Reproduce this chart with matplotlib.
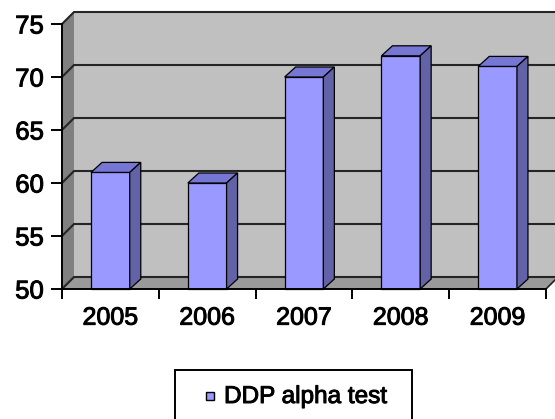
import matplotlib
matplotlib.use("Agg")
import matplotlib.pyplot as plt
import matplotlib.patheffects as pe
from matplotlib.patches import Polygon, Rectangle

plt.rcParams['font.family'] = ['Liberation Sans', 'DejaVu Sans']

# data
years = ['2005', '2006', '2007', '2008', '2009']
values = [61, 60, 70, 72, 71]
series_name = 'DDP alpha test'
y_ticks = [50, 55, 60, 65, 70, 75]

W, H = 555, 419
fig = plt.figure(figsize=(W / 100, H / 100), dpi=100)
# front plane of the plot box, in pixels
x0, x1, yb, yt = 62, 546, 289, 24
ax = fig.add_axes([x0 / W, 1 - yb / H, (x1 - x0) / W, (yb - yt) / H])
ax.set_xlim(0, len(years))
ax.set_ylim(50, 75)
ax.set_facecolor('none')

px_x = (x1 - x0) / len(years)
px_y = (yb - yt) / 25.0
# depth of walls / bars (pixels -> data)
wdx, wdy = 12 / px_x, 12 / px_y
bdx, bdy = 11 / px_x, 10 / px_y

n = len(years)
lo, hi = 50, 75

def poly(pts, fc, z, ec='none', lw=0):
    ax.add_patch(Polygon(pts, closed=True, facecolor=fc, edgecolor=ec,
                         linewidth=lw, zorder=z, clip_on=False))

# walls
poly([(wdx, lo + wdy), (n + wdx, lo + wdy), (n + wdx, hi + wdy), (wdx, hi + wdy)], '#c0c0c0', 1)
poly([(0, lo), (wdx, lo + wdy), (wdx, hi + wdy), (0, hi)], '#808080', 1)
poly([(0, lo), (n, lo), (n + wdx, lo + wdy), (wdx, lo + wdy)], '#9a9a9a', 1)
ax.plot([n, n + wdx], [lo, lo + wdy], color='#222222', lw=1.2, zorder=2, clip_on=False)

# gridlines on side and back walls
for v in y_ticks:
    ax.plot([0, wdx, n + wdx], [v, v + wdy, v + wdy], color='#252525',
            lw=1.5, zorder=2, clip_on=False, solid_joinstyle='miter')

# bars
for i, v in enumerate(values):
    l, r = i + 0.3, i + 0.7
    poly([(l, lo), (r, lo), (r, v), (l, v)], '#9999ff', 3, 'black', 0.9)
    poly([(l, v), (r, v), (r + bdx, v + bdy), (l + bdx, v + bdy)], '#7676d4', 3, 'black', 0.9)
    poly([(r, lo), (r + bdx, lo + bdy), (r + bdx, v + bdy), (r, v)], '#6262a6', 3, 'black', 0.9)

# axes
for s in ['top', 'right']:
    ax.spines[s].set_visible(False)
for s in ['left', 'bottom']:
    ax.spines[s].set_linewidth(1.4)
    ax.spines[s].set_color('black')
    ax.spines[s].set_zorder(4)
ax.set_yticks(y_ticks)
ax.tick_params(axis='y', direction='out', length=8, width=1.4, pad=5, labelsize=18.5)
ax.set_xticks(range(n + 1))
ax.set_xticklabels([])
ax.tick_params(axis='x', which='major', direction='out', length=7, width=1.4)
ax.set_xticks([i + 0.5 for i in range(n)], minor=True)
ax.set_xticklabels(years, minor=True)
ax.tick_params(axis='x', which='minor', length=0, pad=12, labelsize=18)

# thicker strokes, like the blurry original
heavy = [pe.withStroke(linewidth=0.7, foreground='black')]
for t in ax.get_yticklabels() + ax.get_xticklabels(minor=True):
    t.set_path_effects(heavy)

# legend box (runs off the bottom of the picture)
fig.patches.append(Rectangle((175 / W, 1 - 440 / H), 237 / W, 70 / H,
                             transform=fig.transFigure, facecolor='white',
                             edgecolor='black', linewidth=1.4))
fig.patches.append(Rectangle((206 / W, 1 - 400 / H), 8 / W, 8 / H,
                             transform=fig.transFigure, facecolor='#9999ff',
                             edgecolor='black', linewidth=1.0))
fig.text(224 / W, 1 - 397 / H, series_name, fontsize=17.5, va='center', ha='left',
         path_effects=heavy)

fig.savefig('out.png', dpi=100)
